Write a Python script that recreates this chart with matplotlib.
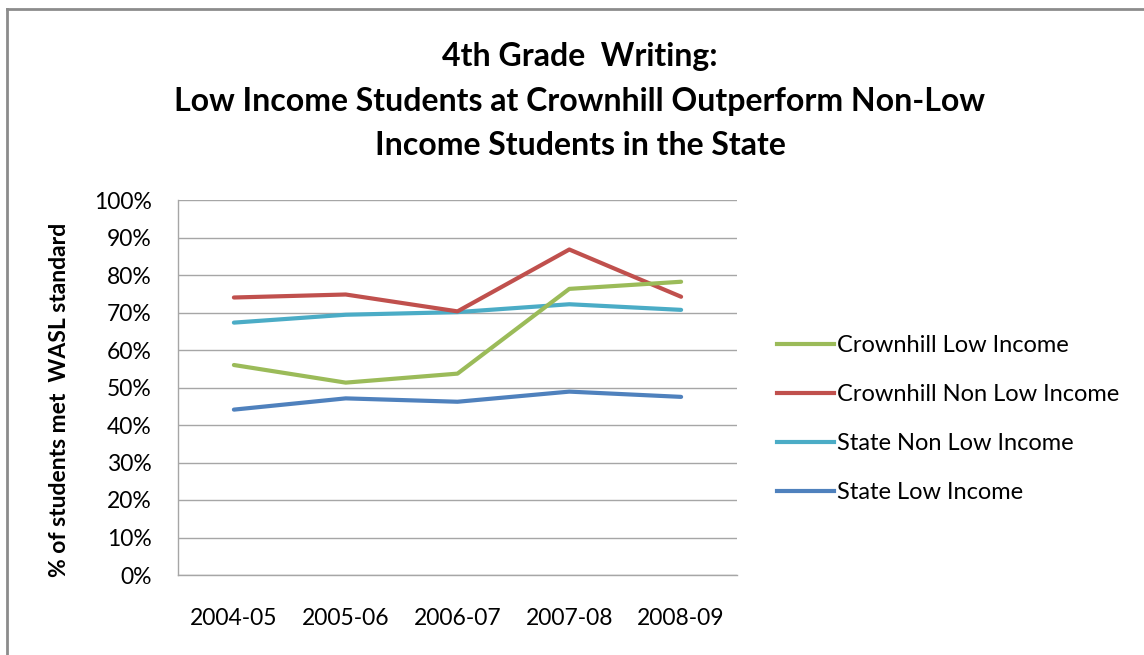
import matplotlib.pyplot as plt
from matplotlib.lines import Line2D

plt.rcParams['font.family'] = ['Lato', 'DejaVu Sans']

years = ['2004-05', '2005-06', '2006-07', '2007-08', '2008-09']
crownhill_low = [56, 51.3, 53.7, 76.3, 78.2]
crownhill_non_low = [74, 74.8, 70.3, 86.8, 74.2]
state_non_low = [67.3, 69.4, 70.1, 72.2, 70.7]
state_low = [44.1, 47.1, 46.2, 48.9, 47.5]

series = [
    ('Crownhill Low Income', crownhill_low, '#9BBB59'),
    ('Crownhill Non Low Income', crownhill_non_low, '#C0504D'),
    ('State Non Low Income', state_non_low, '#4BACC6'),
    ('State Low Income', state_low, '#4F81BD'),
]

fig = plt.figure(figsize=(11.44, 6.55), dpi=100)
ax = fig.add_axes([178 / 1144, 1 - 575 / 655, (737 - 178) / 1144, 375 / 655])

x = range(len(years))
# draw blue first so the others sit on top, like the original
for label, vals, color in reversed(series):
    ax.plot(x, vals, color=color, lw=3, solid_capstyle='round', label=label)

ax.set_xlim(-0.5, len(years) - 0.5)
ax.set_ylim(0, 100)
ax.set_yticks(range(0, 101, 10))
ax.set_yticklabels([f'{v}%' for v in range(0, 101, 10)])
ax.set_xticks(list(x))
ax.set_xticklabels(years)
ax.tick_params(axis='both', length=0, labelsize=16.5, colors='black')
ax.tick_params(axis='y', pad=19)
ax.tick_params(axis='x', pad=24)
ax.grid(axis='y', color='#A6A6A6', lw=1)
ax.set_axisbelow(True)
for s in ['top', 'right']:
    ax.spines[s].set_visible(False)
for s in ['left', 'bottom']:
    ax.spines[s].set_color('#A6A6A6')
    ax.spines[s].set_linewidth(1)

fig.text(60 / 1144, 1 - 400 / 655, '% of students met  WASL standard', rotation=90,
         ha='center', va='center', fontsize=16.5, fontweight='bold')

fig.text(580 / 1144, 1 - 101 / 655,
         '4th Grade  Writing:\nLow Income Students at Crownhill Outperform Non-Low\nIncome Students in the State',
         ha='center', va='center', fontsize=23, fontweight='bold', linespacing=1.65)

handles = [Line2D([], [], color=c, lw=3) for _, _, c in series]
labels = [l for l, _, _ in series]
leg = fig.legend(handles, labels, loc='center left', bbox_to_anchor=(756 / 1144, 1 - 419 / 655),
                 frameon=False, fontsize=17, handlelength=2.4, handletextpad=0.15,
                 labelspacing=1.18)

# outer chart border
fig.add_artist(Line2D([7 / 1144, 7 / 1144], [0, 1 - 9 / 655], transform=fig.transFigure,
                      color='#8C8C8C', lw=2))
fig.add_artist(Line2D([7 / 1144, 1], [1 - 9 / 655, 1 - 9 / 655], transform=fig.transFigure,
                      color='#8C8C8C', lw=2))

fig.savefig('out.png', dpi=100)
